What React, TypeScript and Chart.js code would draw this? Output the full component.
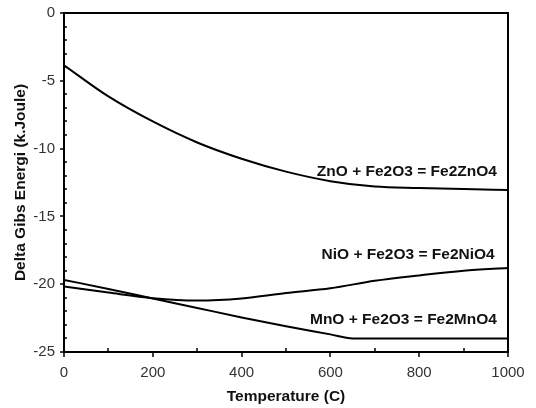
import React, { useEffect, useRef } from "react";
import { Chart, registerables } from "chart.js";

Chart.register(...registerables);

const temps = [0, 100, 200, 300, 400, 500, 600, 700, 800, 900, 1000];
const znValues = [-3.85, -6.15, -8.0, -9.55, -10.75, -11.7, -12.4, -12.8, -12.9, -12.98, -13.05];
const niValues = [-20.17, -20.62, -21.03, -21.2, -21.05, -20.65, -20.3, -19.75, -19.35, -19.0, -18.8];
const mnTemps = [0, 100, 200, 300, 400, 500, 600, 650, 700, 800, 900, 1000];
const mnValues = [-19.68, -20.35, -21.05, -21.75, -22.45, -23.1, -23.7, -24.0, -24.0, -24.0, -24.0, -24.0];

const labelTexts = ["ZnO + Fe2O3 = Fe2ZnO4", "NiO + Fe2O3 = Fe2NiO4", "MnO + Fe2O3 = Fe2MnO4"];
const labelX = [975, 970, 975];
const labelY = [-11.72, -17.85, -22.64];

const xMajor = [0, 200, 400, 600, 800, 1000];
const xMinor = [100, 300, 500, 700, 900];
const yMajor = [0, -5, -10, -15, -20, -25];
const yMinor = [-1, -2, -3, -4, -6, -7, -8, -9, -11, -12, -13, -14, -16, -17, -18, -19, -21, -22, -23, -24];

const FONT = "'Liberation Sans', Arial, Helvetica, sans-serif";

const decorPlugin = {
  id: "decor",
  afterDraw(chart: any) {
    const { ctx, chartArea } = chart;
    const xs = chart.scales.x;
    const ys = chart.scales.y;
    ctx.save();
    ctx.strokeStyle = "#000";
    ctx.lineWidth = 2;
    ctx.strokeRect(chartArea.left, chartArea.top, chartArea.right - chartArea.left, chartArea.bottom - chartArea.top);
    ctx.lineWidth = 1.5;
    ctx.beginPath();
    for (const v of xMajor) {
      const px = Math.round(xs.getPixelForValue(v));
      ctx.moveTo(px, chartArea.bottom);
      ctx.lineTo(px, chartArea.bottom + 5);
    }
    for (const v of xMinor) {
      const px = Math.round(xs.getPixelForValue(v));
      ctx.moveTo(px, chartArea.bottom);
      ctx.lineTo(px, chartArea.bottom - 4);
    }
    for (const v of yMajor) {
      const py = Math.round(ys.getPixelForValue(v));
      ctx.moveTo(chartArea.left, py);
      ctx.lineTo(chartArea.left - 4, py);
    }
    for (const v of yMinor) {
      const py = Math.round(ys.getPixelForValue(v));
      ctx.moveTo(chartArea.left, py);
      ctx.lineTo(chartArea.left + 3, py);
    }
    ctx.stroke();

    ctx.fillStyle = "#111";
    ctx.font = `bold 15.5px ${FONT}`;
    ctx.textAlign = "right";
    ctx.textBaseline = "middle";
    labelTexts.forEach((t, i) => {
      ctx.fillText(t, xs.getPixelForValue(labelX[i]), ys.getPixelForValue(labelY[i]));
    });
    ctx.restore();
  },
};

function makeLine(xv: number[], yv: number[]) {
  return {
    data: xv.map((x, i) => ({ x, y: yv[i] })),
    borderColor: "#000",
    borderWidth: 2,
    pointRadius: 0,
    fill: false,
    cubicInterpolationMode: "monotone" as const,
  };
}

export default function App() {
  const canvasRef = useRef<HTMLCanvasElement>(null);

  useEffect(() => {
    document.body.style.margin = "0";
    const canvas = canvasRef.current;
    if (!canvas) return;
    const chart = new Chart(canvas, {
      type: "line",
      data: {
        datasets: [
          makeLine(temps, znValues),
          makeLine(temps, niValues),
          makeLine(mnTemps, mnValues),
        ],
      },
      options: {
        responsive: false,
        animation: false,
        layout: { padding: { top: 13, right: 28, left: 0, bottom: 0 } },
        plugins: {
          legend: { display: false },
          tooltip: { enabled: false },
        },
        scales: {
          x: {
            type: "linear",
            min: 0,
            max: 1000,
            ticks: {
              stepSize: 200,
              color: "#333",
              font: { family: FONT, size: 15 },
              padding: 12,
              maxRotation: 0,
              callback: (v: any) => String(v),
            },
            grid: { display: false, drawTicks: false },
            border: { display: false },
            title: {
              display: true,
              text: "Temperature (C)",
              color: "#111",
              font: { family: FONT, size: 15.5, weight: "bold", lineHeight: 1 },
              padding: { top: 0, bottom: 4 },
            },
            afterFit(s: any) {
              s.height = 56;
              s.paddingLeft = 0;
              s.paddingRight = 0;
            },
          },
          y: {
            type: "linear",
            min: -25,
            max: 0,
            ticks: {
              stepSize: 5,
              color: "#333",
              font: { family: FONT, size: 15 },
              padding: 9,
            },
            grid: { display: false, drawTicks: false },
            border: { display: false },
            title: {
              display: true,
              text: "Delta Gibs Energi (k.Joule)",
              color: "#111",
              font: { family: FONT, size: 15.5, weight: "bold", lineHeight: 1 },
              padding: { top: 13, bottom: 0 },
            },
            afterFit(s: any) {
              s.width = 64;
              s.paddingTop = 0;
              s.paddingBottom = 0;
            },
          },
        },
      },
      plugins: [decorPlugin],
    });
    return () => chart.destroy();
  }, []);

  return (
    <div style={{ position: "absolute", left: 0, top: 0, width: 536, height: 408, background: "#fff" }}>
      <canvas ref={canvasRef} width={536} height={408} />
    </div>
  );
}
